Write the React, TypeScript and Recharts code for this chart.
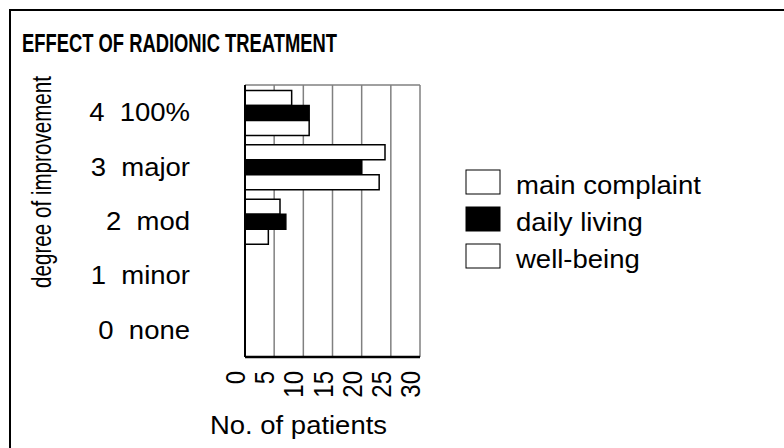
import { BarChart, Bar, XAxis, YAxis, CartesianGrid } from "recharts";

// degree of improvement, top to bottom
const categories = ["4  100%", "3  major", "2  mod", "1  minor", "0  none"];
const mainComplaint = [8, 24, 6, 0, 0];
const dailyLiving = [11, 20, 7, 0, 0];
const wellBeing = [11, 23, 4, 0, 0];
const xTicks = [0, 5, 10, 15, 20, 25, 30];

const series = [
  { key: "mainComplaint", name: "main complaint", fill: "#ffffff" },
  { key: "dailyLiving", name: "daily living", fill: "#000000" },
  { key: "wellBeing", name: "well-being", fill: "#ffffff" },
];

const data = categories.map((degree, i) => ({
  degree,
  mainComplaint: mainComplaint[i],
  dailyLiving: dailyLiving[i],
  wellBeing: wellBeing[i],
}));

const FONT = '"Liberation Sans", Arial, sans-serif';
const STRETCH = 1.1;

function DegreeTick({ x, y, payload }: any) {
  return (
    <g transform={`translate(${x},${y}) scale(${STRETCH},1)`}>
      <text
        x={0}
        y={0}
        dy={9}
        textAnchor="end"
        fontSize={25}
        fontFamily={FONT}
        fill="#000"
        xmlSpace="preserve"
        style={{ whiteSpace: "pre" }}
      >
        {payload.value}
      </text>
    </g>
  );
}

function CountTick({ x, y, payload }: any) {
  return (
    <g transform={`translate(${x},${y}) rotate(-90) scale(1,1.12)`}>
      <text x={0} y={0} textAnchor="end" fontSize={24} fontFamily={FONT} fill="#000">
        {payload.value}
      </text>
    </g>
  );
}

export default function App() {
  return (
    <div
      style={{
        position: "absolute",
        left: 0,
        top: 0,
        width: 784,
        height: 448,
        overflow: "hidden",
        background: "#fff",
      }}
    >
      <div
        style={{
          position: "absolute",
          left: 9,
          top: 9,
          width: 800,
          height: 500,
          border: "2px solid #000",
        }}
      />
      <div style={{ position: "absolute", left: 0, top: 0 }}>
        <BarChart
          width={784}
          height={448}
          data={data}
          layout="vertical"
          margin={{ top: 85, right: 364, bottom: 61, left: 45 }}
          barCategoryGap="10%"
          barGap={0}
        >
          <CartesianGrid
            stroke="#808080"
            strokeWidth={1.5}
            horizontalCoordinatesGenerator={({ offset }: any) => [offset.top]}
          />
          <XAxis
            type="number"
            domain={[0, 30]}
            ticks={xTicks}
            height={30}
            tickSize={0}
            tickMargin={14}
            tick={<CountTick />}
            axisLine={{ stroke: "#000", strokeWidth: 2.5 }}
            interval={0}
          />
          <YAxis
            type="category"
            dataKey="degree"
            width={200}
            tickSize={0}
            tickMargin={55}
            tick={<DegreeTick />}
            axisLine={{ stroke: "#000", strokeWidth: 2 }}
            interval={0}
          />
          {series.map((s) => (
            <Bar
              key={s.key}
              dataKey={s.key}
              name={s.name}
              fill={s.fill}
              stroke="#000"
              strokeWidth={1.5}
              isAnimationActive={false}
            />
          ))}
        </BarChart>
      </div>
      <svg
        width={784}
        height={448}
        style={{ position: "absolute", left: 0, top: 0, pointerEvents: "none" }}
        fontFamily={FONT}
      >
        <text
          x={22}
          y={52}
          fontSize={25}
          fontWeight="bold"
          textLength={315}
          lengthAdjust="spacingAndGlyphs"
        >
          EFFECT OF RADIONIC TREATMENT
        </text>
        <text
          transform="translate(51,182) rotate(-90)"
          textAnchor="middle"
          fontSize={27}
          textLength={212}
          lengthAdjust="spacingAndGlyphs"
        >
          degree of improvement
        </text>
        <text x={210} y={434} fontSize={26} textLength={177} lengthAdjust="spacingAndGlyphs">
          No. of patients
        </text>
        {series.map((s, i) => (
          <g key={s.key}>
            <rect
              x={466}
              y={170 + i * 37}
              width={34}
              height={24}
              fill={s.fill}
              stroke="#000"
              strokeWidth={1}
            />
            <g transform={`translate(516,${194 + i * 37}) scale(${STRETCH},1)`}>
              <text x={0} y={0} fontSize={25}>
                {s.name}
              </text>
            </g>
          </g>
        ))}
      </svg>
    </div>
  );
}
